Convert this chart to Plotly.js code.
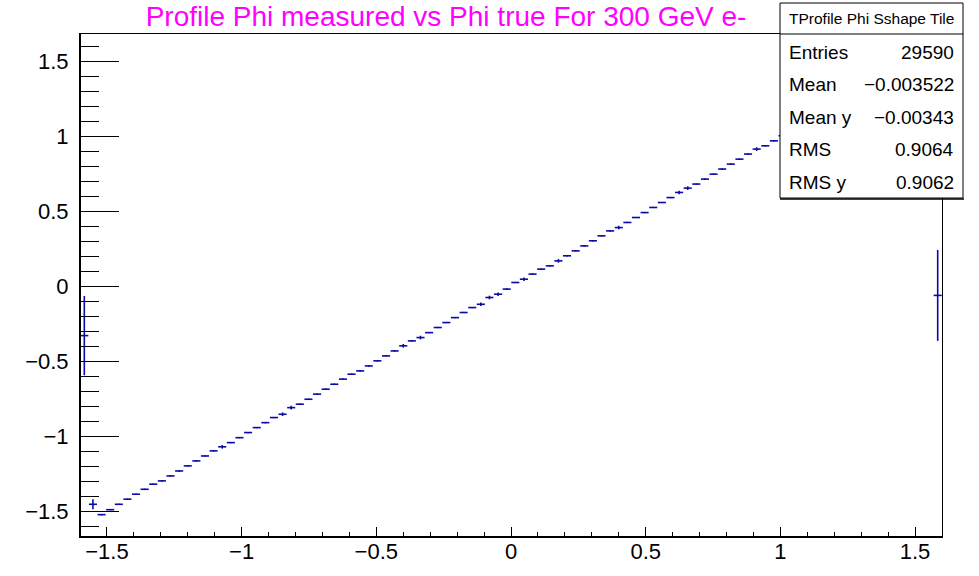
<!DOCTYPE html>
<html>
<head>
<meta charset="utf-8">
<script src="https://cdn.plot.ly/plotly-3.0.1.min.js"></script>
<style>
  html, body { margin: 0; padding: 0; background: #ffffff; }
  #plot { width: 979px; height: 576px; }
</style>
</head>
<body>
<div id="plot"></div>
<script>
// TProfile: mean measured phi in each bin of true phi (100 bins over [-1.6, 1.6])
const phiTrue = [
  -1.584, -1.552, -1.520, -1.488, -1.456, -1.424, -1.392, -1.360, -1.328, -1.296,
  -1.264, -1.232, -1.200, -1.168, -1.136, -1.104, -1.072, -1.040, -1.008, -0.976,
  -0.944, -0.912, -0.880, -0.848, -0.816, -0.784, -0.752, -0.720, -0.688, -0.656,
  -0.624, -0.592, -0.560, -0.528, -0.496, -0.464, -0.432, -0.400, -0.368, -0.336,
  -0.304, -0.272, -0.240, -0.208, -0.176, -0.144, -0.112, -0.080, -0.048, -0.016,
   0.016,  0.048,  0.080,  0.112,  0.144,  0.176,  0.208,  0.240,  0.272,  0.304,
   0.336,  0.368,  0.400,  0.432,  0.464,  0.496,  0.528,  0.560,  0.592,  0.624,
   0.656,  0.688,  0.720,  0.752,  0.784,  0.816,  0.848,  0.880,  0.912,  0.944,
   0.976,  1.008,  1.040,  1.072,  1.104,  1.136,  1.168,  1.200,  1.232,  1.264,
   1.296,  1.328,  1.360,  1.392,  1.424,  1.456,  1.488,  1.520,  1.552,  1.584
];

const phiMeasured = [
  -0.327, -1.451, -1.520, -1.487, -1.451, -1.417, -1.384, -1.351, -1.317, -1.295,
  -1.262, -1.229, -1.195, -1.162, -1.129, -1.095, -1.068, -1.040, -1.007, -0.973,
  -0.940, -0.907, -0.873, -0.851, -0.807, -0.784, -0.751, -0.717, -0.684, -0.651,
  -0.617, -0.584, -0.562, -0.529, -0.495, -0.462, -0.429, -0.395, -0.362, -0.340,
  -0.307, -0.273, -0.240, -0.207, -0.173, -0.140, -0.118, -0.073, -0.051, -0.017,
   0.027,  0.049,  0.083,  0.116,  0.138,  0.171,  0.205,  0.238,  0.271,  0.305,
   0.338,  0.371,  0.393,  0.427,  0.460,  0.493,  0.527,  0.560,  0.593,  0.627,
   0.656,  0.683,  0.716,  0.749,  0.783,  0.816,  0.849,  0.883,  0.916,  0.938,
   0.971,  1.005,  1.038,  1.071,  1.104,  1.137,  1.170,  1.203,  1.236,  1.268,
   1.301,  1.334,  1.366,  1.399,  1.432,  1.464,  1.497,  1.526,  1.548, -0.059
];

// error on the mean in each bin
const phiMeasuredErr = [
  0.264, 0.033, 0.004, 0.004, 0.004, 0.004, 0.004, 0.004, 0.004, 0.004,
  0.004, 0.004, 0.004, 0.004, 0.004, 0.004, 0.012, 0.004, 0.004, 0.004,
  0.004, 0.004, 0.004, 0.012, 0.012, 0.004, 0.004, 0.004, 0.004, 0.004,
  0.004, 0.004, 0.004, 0.004, 0.004, 0.004, 0.004, 0.012, 0.004, 0.012,
  0.004, 0.004, 0.004, 0.004, 0.004, 0.004, 0.012, 0.012, 0.012, 0.004,
  0.004, 0.012, 0.004, 0.004, 0.004, 0.012, 0.004, 0.004, 0.004, 0.004,
  0.004, 0.004, 0.012, 0.004, 0.004, 0.004, 0.004, 0.004, 0.004, 0.012,
  0.012, 0.004, 0.004, 0.004, 0.004, 0.004, 0.004, 0.004, 0.012, 0.004,
  0.004, 0.004, 0.004, 0.004, 0.004, 0.004, 0.004, 0.004, 0.004, 0.004,
  0.004, 0.004, 0.004, 0.004, 0.004, 0.004, 0.004, 0.004, 0.004, 0.303
];

const chartTitle = 'Profile Phi measured vs Phi true For 300 GeV e-';
const statsHeader = 'TProfile Phi Sshape Tile';
const statNames  = ['Entries', 'Mean', 'Mean y', 'RMS', 'RMS y'];
const statValues = ['29590', '\u22120.003522', '\u22120.00343', '0.9064', '0.9062'];

const FONT = 'Liberation Sans, Arial, Helvetica, sans-serif';
const MARK = '#0a0aa8';

const profile = {
  type: 'scatter',
  mode: 'markers',
  x: phiTrue,
  y: phiMeasured,
  marker: { size: 1, color: MARK },
  error_x: { type: 'constant', value: 0.015, width: 0, thickness: 1.6, color: MARK },
  error_y: { type: 'data', array: phiMeasuredErr, visible: true, width: 0, thickness: 1.6, color: MARK },
  hoverinfo: 'x+y',
  showlegend: false
};

// frame and stats box geometry in paper units (plot area spans 80..942 x 34..537 px)
const W = 979, H = 576, L = 80, R = 37, T = 34, B = 39;
const pw = W - L - R, ph = H - T - B;
const px = v => (v - L) / pw;
const py = v => (H - B - v) / ph;

const boxLeft = 780, boxRight = 963, boxTop = 3, headBottom = 34, boxBottom = 198;

const shapes = [
  // heavier left and bottom axis lines
  { type: 'line', xref: 'paper', yref: 'paper', layer: 'above',
    x0: 0, x1: 0, y0: 0, y1: 1, line: { color: '#000000', width: 2 } },
  { type: 'line', xref: 'paper', yref: 'paper', layer: 'above',
    x0: 0, x1: 1, y0: 0, y1: 0, line: { color: '#000000', width: 2 } },
  // stats box
  { type: 'rect', xref: 'paper', yref: 'paper', layer: 'above',
    x0: px(boxLeft), x1: px(boxRight), y0: py(boxBottom), y1: py(boxTop),
    fillcolor: '#ffffff', line: { color: '#000000', width: 1 } },
  { type: 'line', xref: 'paper', yref: 'paper', layer: 'above',
    x0: px(boxLeft), x1: px(boxRight), y0: py(headBottom), y1: py(headBottom),
    line: { color: '#000000', width: 1 } },
  { type: 'line', xref: 'paper', yref: 'paper', layer: 'above',
    x0: px(boxLeft), x1: px(boxRight + 1), y0: py(boxBottom + 1), y1: py(boxBottom + 1),
    line: { color: '#000000', width: 1.5 } }
];

const annotations = [
  { xref: 'paper', yref: 'paper', x: px((boxLeft + boxRight) / 2), y: py(19),
    text: statsHeader, showarrow: false, xanchor: 'center', yanchor: 'middle',
    font: { family: FONT, size: 15.5, color: '#000000' } }
];
const rowY = [52, 85, 117, 150, 182];
statNames.forEach((name, i) => {
  annotations.push({ xref: 'paper', yref: 'paper', x: px(787), y: py(rowY[i]),
    text: name, showarrow: false, xanchor: 'left', yanchor: 'middle',
    font: { family: FONT, size: 19, color: '#000000' } });
  annotations.push({ xref: 'paper', yref: 'paper', x: px(956), y: py(rowY[i]),
    text: statValues[i], showarrow: false, xanchor: 'right', yanchor: 'middle',
    font: { family: FONT, size: 19, color: '#000000' } });
});

const layout = {
  width: W, height: H,
  margin: { l: L, r: R, t: T, b: B, pad: 0 },
  paper_bgcolor: '#ffffff',
  plot_bgcolor: '#ffffff',
  title: {
    text: chartTitle,
    font: { family: FONT, size: 28, color: '#ff00ff' },
    x: 446 / W, xanchor: 'center',
    y: 1 - 16 / H, yanchor: 'middle'
  },
  xaxis: {
    range: [-1.6, 1.6],
    tick0: 0, dtick: 0.5,
    ticks: 'inside', ticklen: 10, tickwidth: 1, tickcolor: '#000000',
    minor: { dtick: 0.1, ticks: 'inside', ticklen: 5, tickwidth: 1, tickcolor: '#000000', showgrid: false },
    showgrid: false, zeroline: false,
    showline: true, linecolor: '#000000', linewidth: 1, mirror: true,
    tickfont: { family: FONT, size: 22, color: '#000000' },
    ticklabelstandoff: -5
  },
  yaxis: {
    range: [-1.669, 1.683],
    tick0: 0, dtick: 0.5,
    ticks: 'inside', ticklen: 39, tickwidth: 1, tickcolor: '#000000',
    minor: { dtick: 0.1, ticks: 'inside', ticklen: 19, tickwidth: 1, tickcolor: '#000000', showgrid: false },
    showgrid: false, zeroline: false,
    showline: true, linecolor: '#000000', linewidth: 1, mirror: true,
    tickfont: { family: FONT, size: 22, color: '#000000' },
    ticklabelstandoff: 6
  },
  shapes: shapes,
  annotations: annotations
};

Plotly.newPlot('plot', [profile], layout, { displayModeBar: false, staticPlot: true });
</script>
</body>
</html>
